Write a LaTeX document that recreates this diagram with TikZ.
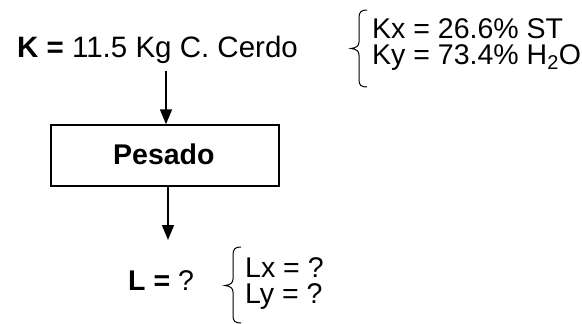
\documentclass[tikz,border=0pt]{standalone}
\usepackage{fontspec}
\setmainfont{Liberation Sans}
\usetikzlibrary{arrows.meta}
\begin{document}
\begin{tikzpicture}[x=1pt,y=-1pt,
  txt/.style={inner sep=0pt,anchor=base west,font=\fontsize{28.5}{26}\selectfont},
  twoline/.style={txt,align=left},
  procbox/.style={draw,line width=1.5pt,minimum width=228pt,minimum height=61pt,inner sep=0pt},
  flow/.style={line width=1.5pt,-{Triangle[length=15pt,width=12pt]}},
  brace/.style={line width=1pt}]
\useasboundingbox (0,0) rectangle (582,324);
\node[txt,font=\fontsize{29.5}{30}\selectfont] (K) at (17,57) {\textbf{K =} 11.5 Kg C. Cerdo};
\node[twoline] (Kxy) at (372,64) {Kx = 26.6\% ST\\Ky = 73.4\% H\textsubscript{2}O};
\draw[brace] (367,10) .. controls (361,10) and (359,12) .. (359,18) -- (359,42)
  .. controls (359,46) and (356,48) .. (351,48.5)
  .. controls (356,49) and (359,51) .. (359,55) -- (359,80)
  .. controls (359,85) and (361,87) .. (367,87);
\node[procbox] (box) at (165,155.5) {};
\node[txt,font=\fontsize{28.5}{28}\selectfont\bfseries] (pes) at (113,164) {Pesado};
\coordinate (a1) at (166,71);
\draw[flow] (a1) -- (a1 |- box.north);
\coordinate (a2) at (168,240);
\draw[flow] (box.south -| a2) -- (a2);
\node[txt] (L) at (128,290) {\textbf{L =} ?};
\node[twoline] (Lxy) at (245,303) {Lx = ?\\Ly = ?};
\draw[brace] (241,247) .. controls (235,247) and (233,249) .. (233,255) -- (233,279)
  .. controls (233,283) and (230,285) .. (225,285.5)
  .. controls (230,286) and (233,288) .. (233,292) -- (233,316)
  .. controls (233,321) and (235,323) .. (241,323);
\end{tikzpicture}
\end{document}
